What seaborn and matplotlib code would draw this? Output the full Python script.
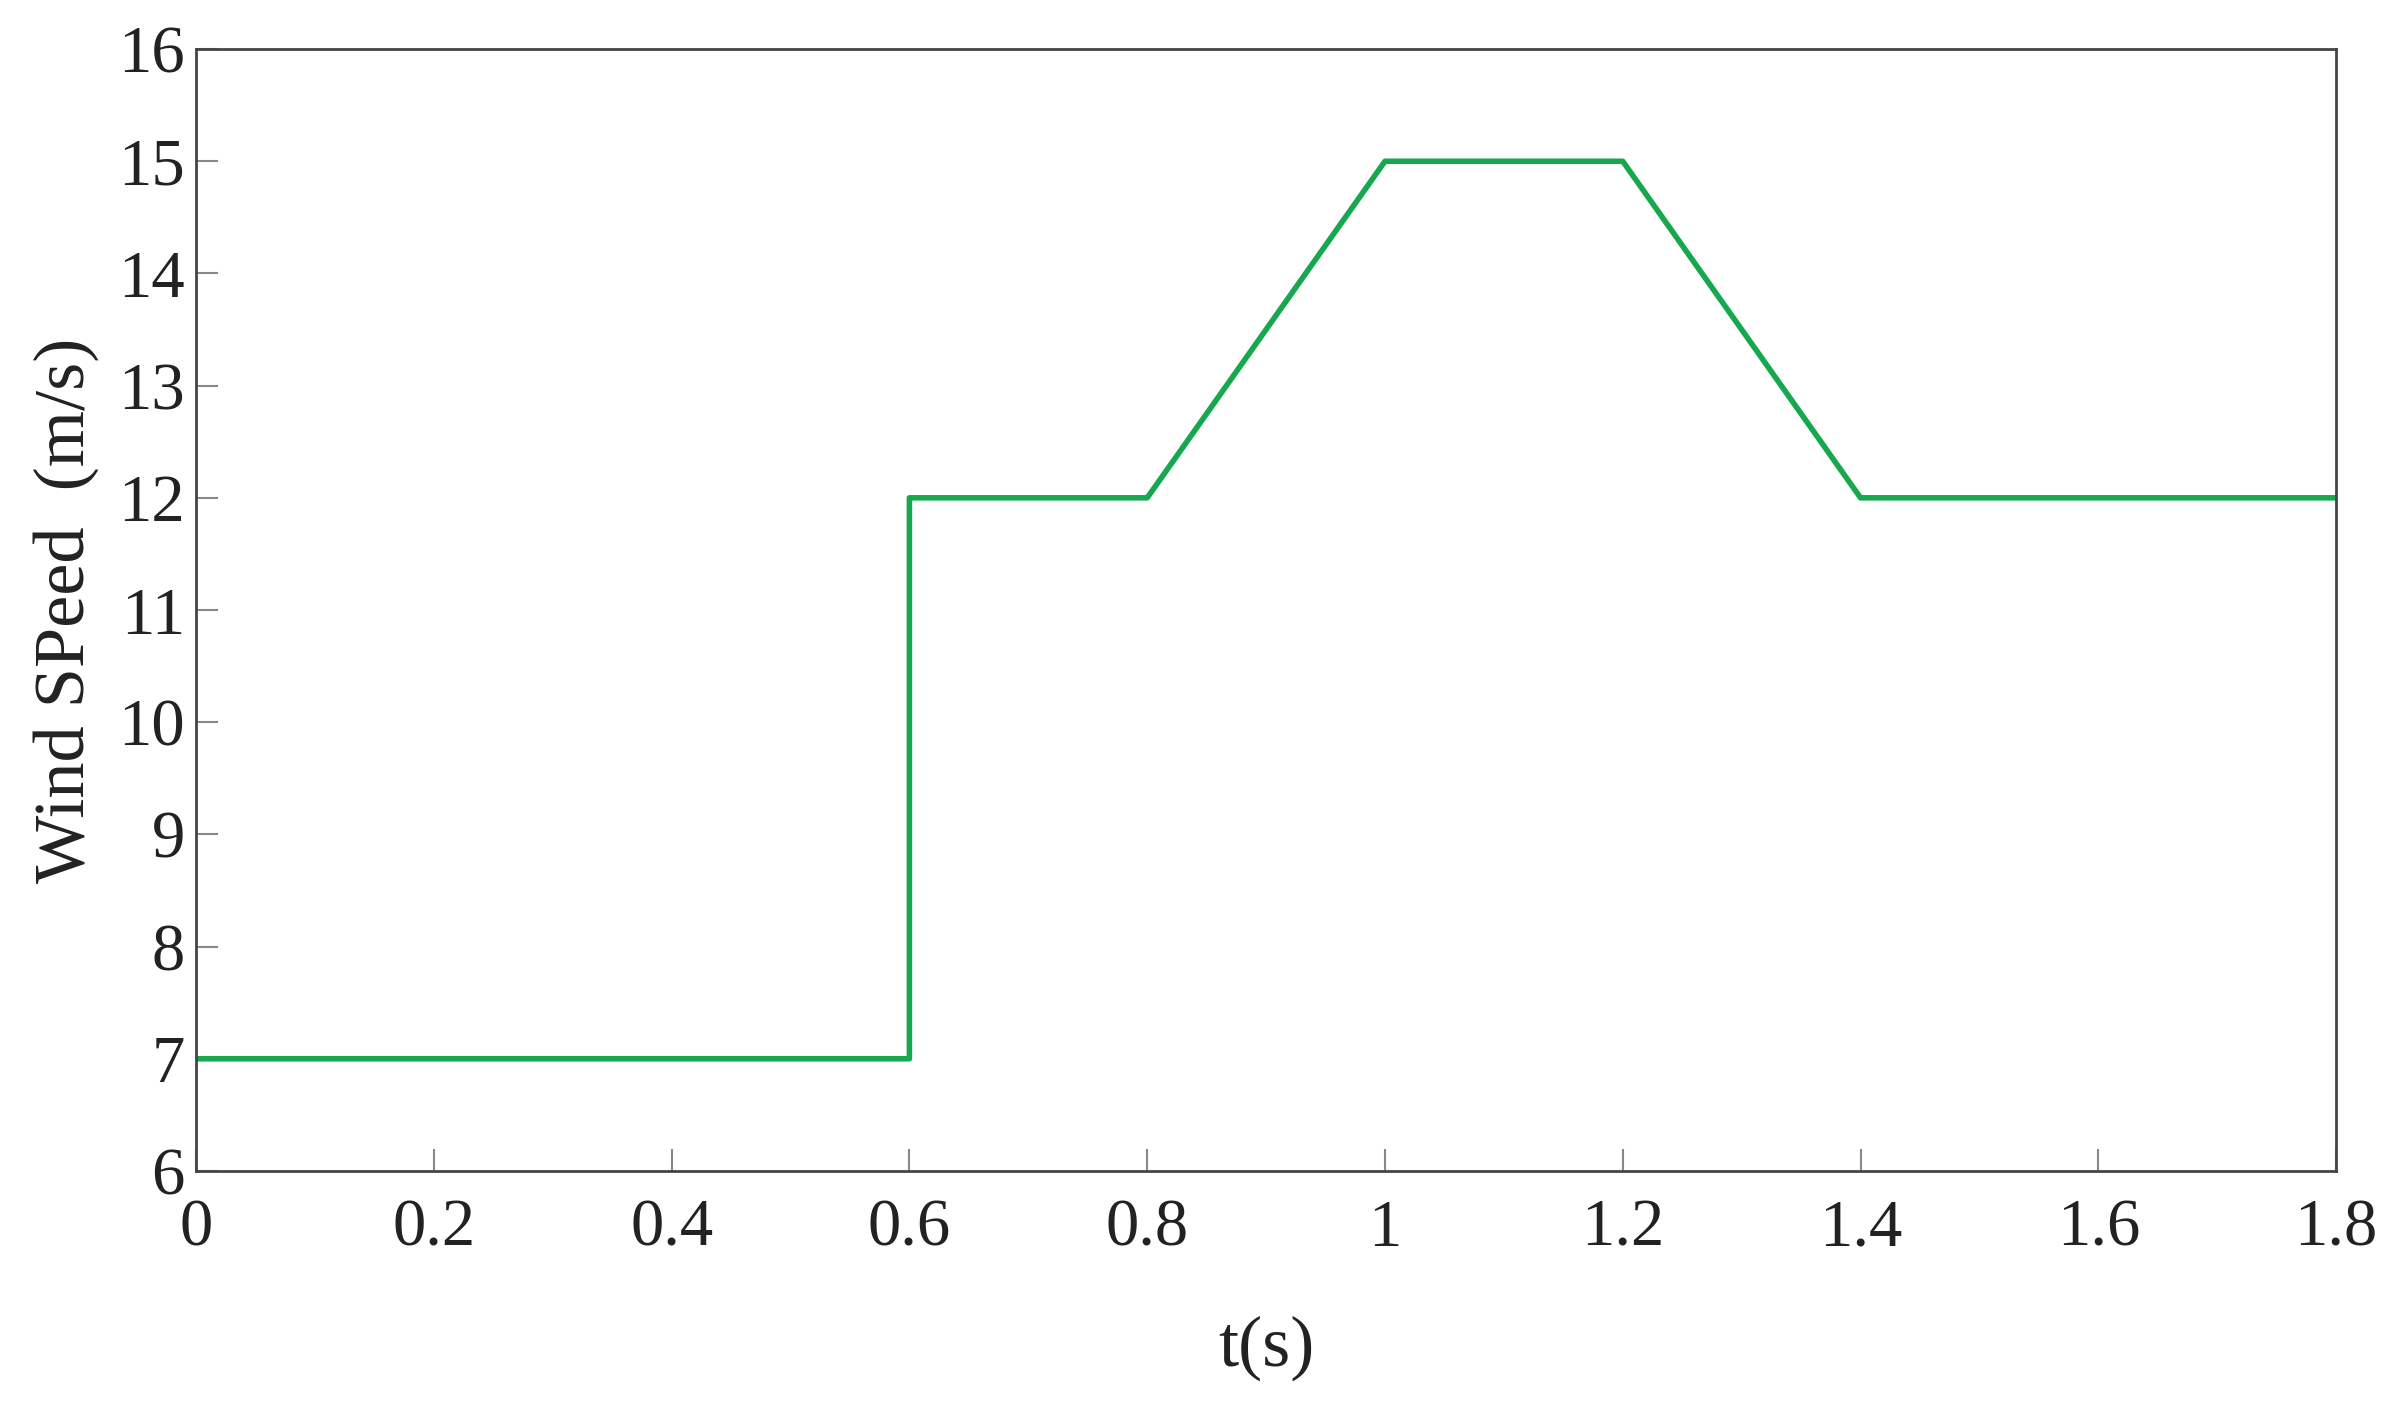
import pandas as pd
import seaborn as sns
import matplotlib.pyplot as plt

# Wind speed profile
t_values = [0.0, 0.6, 0.6, 0.8, 1.0, 1.2, 1.4, 1.8]
speed_values = [7, 7, 12, 12, 15, 15, 12, 12]
x_ticks = [0, 0.2, 0.4, 0.6, 0.8, 1.0, 1.2, 1.4, 1.6, 1.8]
x_tick_labels = ["0", "0.2", "0.4", "0.6", "0.8", "1", "1.2", "1.4", "1.6", "1.8"]
y_ticks = list(range(6, 17))

wind = pd.DataFrame({"t": t_values, "speed": speed_values})

sns.set_style("ticks")
plt.rcParams["font.family"] = ["Liberation Serif", "DejaVu Serif"]

fig = plt.figure(figsize=(23.85, 14.02), dpi=100)
ax = fig.add_axes([0.0822, 0.1648, 0.8973, 0.8002])

sns.lineplot(data=wind, x="t", y="speed", ax=ax, sort=False, estimator=None,
             color="#16a84f", linewidth=4)

ax.set_xlim(0, 1.8)
ax.set_ylim(6, 16)
ax.set_xticks(x_ticks)
ax.set_xticklabels(x_tick_labels)
ax.set_yticks(y_ticks)

for side in ["top", "right", "bottom", "left"]:
    ax.spines[side].set_visible(True)
    ax.spines[side].set_color("#444444")
    ax.spines[side].set_linewidth(2)

ax.tick_params(axis="both", direction="in", length=16, width=1.5,
               color="#888888", labelsize=48, labelcolor="#222222")
ax.tick_params(axis="x", pad=20)
ax.tick_params(axis="y", pad=8)

ax.set_xlabel("t(s)", fontsize=52, color="#222222", labelpad=40)
ax.set_ylabel("Wind SPeed  (m/s)", fontsize=52, color="#222222", labelpad=14)

fig.savefig("out.png", dpi=100)
plt.close(fig)
